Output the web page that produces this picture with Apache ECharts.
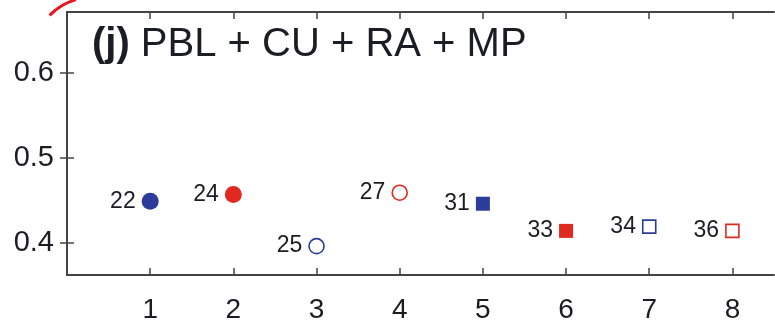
<!DOCTYPE html>
<html>
<head>
<meta charset="utf-8">
<script src="https://cdn.jsdelivr.net/npm/echarts@6/dist/echarts.min.js"></script>
<style>
  html, body { margin: 0; padding: 0; background: #fff; }
  #chart { width: 775px; height: 324px; }
</style>
</head>
<body>
<div id="chart"></div>
<script>
// Experiment index on the x axis, score on the y axis
const xPositions = [1, 2, 3, 4, 5, 6, 7, 8];
const scores     = [0.449, 0.457, 0.396, 0.459, 0.446, 0.414, 0.419, 0.414];
const runIds     = ['22', '24', '25', '27', '31', '33', '34', '36'];
const runColors  = ['blue', 'red', 'blue', 'red', 'blue', 'red', 'blue', 'red'];
const runShapes  = ['circle', 'circle', 'circle', 'circle', 'rect', 'rect', 'rect', 'rect'];
const runFilled  = [true, true, false, false, true, true, false, false];

const xTicks = [1, 2, 3, 4, 5, 6, 7, 8];
const yTicks = [0.4, 0.5, 0.6];
const panelTitle = 'PBL + CU + RA + MP';
const panelTag = '(j)';

const palette = { blue: '#2b3c9b', red: '#e0291f' };
const axisColor = '#444';
const textColor = '#1c1c24';
const font = '"Liberation Sans", Arial, Helvetica, sans-serif';

const points = xPositions.map((x, i) => {
  const c = palette[runColors[i]];
  const circle = runShapes[i] === 'circle';
  return {
    value: [x, scores[i]],
    symbol: runShapes[i],
    symbolSize: circle ? (runFilled[i] ? 17 : 15) : (runFilled[i] ? 14 : 13),
    itemStyle: runFilled[i]
      ? { color: c, opacity: 1 }
      : { color: '#fff', borderColor: c, borderWidth: 1.6, opacity: 1 },
    label: { formatter: runIds[i] }
  };
});

const chart = echarts.init(document.getElementById('chart'), null, { renderer: 'canvas' });

const baseAxisLine = { show: true, lineStyle: { color: axisColor, width: 2 } };
const innerTicks = { show: true, inside: true, length: 7, lineStyle: { color: axisColor, width: 1.5 } };

chart.setOption({
  animation: false,
  backgroundColor: '#fff',
  title: {
    text: '{tag|' + panelTag + '} ' + panelTitle,
    left: 87,
    top: 20,
    textStyle: {
      fontFamily: font,
      fontSize: 40,
      fontWeight: 'normal',
      color: textColor,
      rich: {
        tag: { fontFamily: font, fontSize: 40, fontWeight: 'bold', color: textColor }
      }
    }
  },
  grid: { left: 67, top: 12, right: 1, bottom: 44, containLabel: false },
  xAxis: [
    {
      type: 'value', position: 'bottom', min: 0, max: 8.5,
      axisLine: baseAxisLine,
      axisTick: Object.assign({ customValues: xTicks }, innerTicks),
      axisLabel: {
        customValues: xTicks, margin: 21,
        fontFamily: font, fontSize: 28, color: textColor
      },
      splitLine: { show: false }
    },
    {
      type: 'value', position: 'top', min: 0, max: 8.5,
      axisLine: baseAxisLine,
      axisTick: Object.assign({ customValues: xTicks }, innerTicks),
      axisLabel: { show: false },
      splitLine: { show: false }
    }
  ],
  yAxis: [
    {
      type: 'value', position: 'left', min: 0.362, max: 0.672,
      axisLine: baseAxisLine,
      axisTick: Object.assign({ customValues: yTicks }, innerTicks),
      axisLabel: {
        customValues: yTicks, margin: 13,
        fontFamily: font, fontSize: 29, color: textColor,
        formatter: v => v.toFixed(1)
      },
      splitLine: { show: false }
    },
    {
      type: 'value', position: 'right', min: 0.362, max: 0.672,
      axisLine: baseAxisLine,
      axisTick: Object.assign({ customValues: yTicks }, innerTicks),
      axisLabel: { show: false },
      splitLine: { show: false }
    }
  ],
  series: [
    {
      type: 'scatter',
      xAxisIndex: 0,
      yAxisIndex: 0,
      data: points,
      label: {
        show: true,
        position: 'left',
        distance: 6,
        fontFamily: font,
        fontSize: 23,
        color: textColor
      },
      emphasis: { disabled: true }
    }
  ],
  graphic: [
    {
      type: 'arc',
      shape: { cx: 94, cy: 60, r: 63, startAngle: 3.93, endAngle: 4.42, clockwise: true },
      style: { stroke: '#e8141e', lineWidth: 3, fill: null },
      z: 10
    }
  ]
});
</script>
</body>
</html>
